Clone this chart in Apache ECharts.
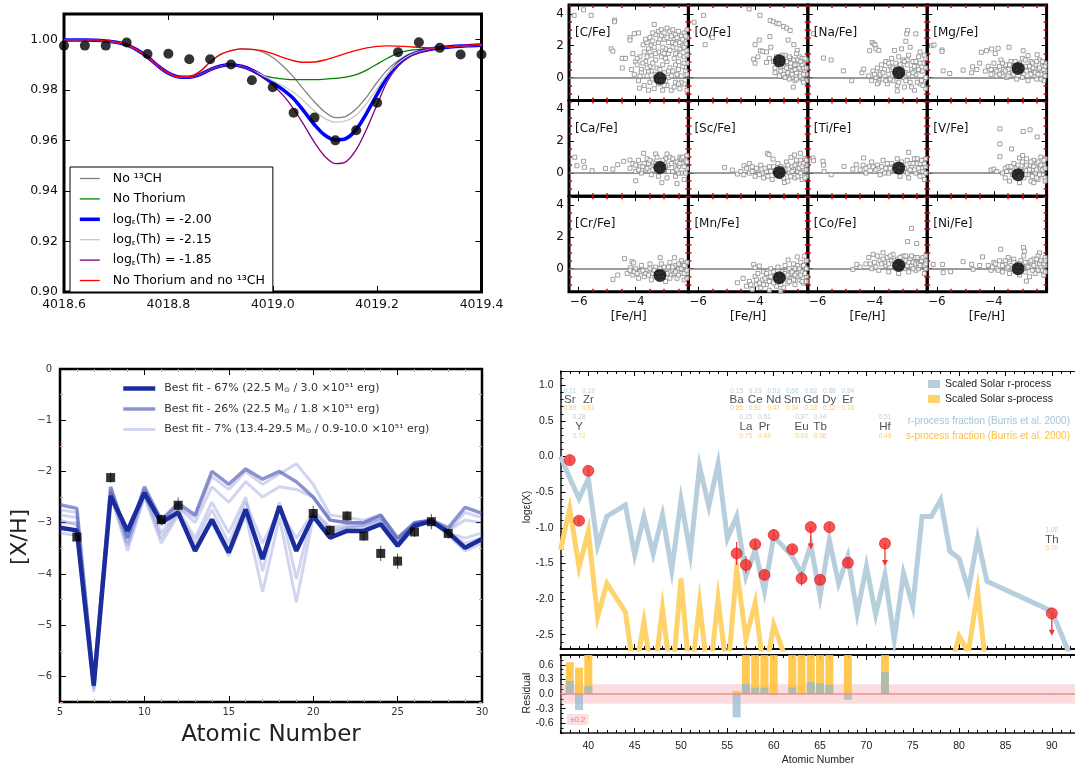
<!DOCTYPE html>
<html>
<head>
<meta charset="utf-8">
<script src="https://cdn.jsdelivr.net/npm/echarts@6.0.0/dist/echarts.min.js"></script>
<style>
  html, body { margin: 0; padding: 0; background: #fff; }
  #chart { width: 1075px; height: 765px; }
</style>
</head>
<body>
<div id="chart"></div>
<script>
const FONT = "'DejaVu Sans', sans-serif"
const FONT2 = "'Liberation Sans', Arial, sans-serif"

// ---- top left: Th 4019 line synthesis ----
const wave = [4018.60,4018.62,4018.64,4018.66,4018.68,4018.70,4018.72,4018.74,4018.76,4018.78,4018.80,4018.82,4018.84,4018.86,4018.88,4018.90,4018.92,4018.94,4018.96,4018.98,4019.00,4019.02,4019.04,4019.06,4019.08,4019.10,4019.12,4019.14,4019.16,4019.18,4019.20,4019.22,4019.24,4019.26,4019.28,4019.30,4019.32,4019.34,4019.36,4019.38,4019.40]
const fluxNo13CH = [0.9999,0.9999,0.9999,0.9998,0.9995,0.9990,0.9979,0.9958,0.9930,0.9895,0.9866,0.9851,0.9852,0.9872,0.9910,0.9940,0.9955,0.9962,0.9960,0.9950,0.9928,0.9893,0.9850,0.9800,0.9752,0.9712,0.9690,0.9695,0.9725,0.9772,0.9830,0.9880,0.9915,0.9940,0.9953,0.9960,0.9965,0.9970,0.9973,0.9975,0.9977]
const fluxNoTh = [0.9997,0.9997,0.9997,0.9996,0.9993,0.9988,0.9978,0.9958,0.9930,0.9895,0.9866,0.9851,0.9850,0.9860,0.9880,0.9894,0.9899,0.9893,0.9878,0.9858,0.9848,0.9843,0.9840,0.9840,0.9840,0.9842,0.9845,0.9850,0.9860,0.9878,0.9902,0.9925,0.9945,0.9955,0.9960,0.9964,0.9967,0.9970,0.9973,0.9975,0.9977]
const fluxTh200 = [0.9997,0.9997,0.9997,0.9996,0.9993,0.9988,0.9978,0.9958,0.9930,0.9895,0.9866,0.9851,0.9850,0.9860,0.9880,0.9894,0.9899,0.9893,0.9878,0.9855,0.9828,0.9800,0.9765,0.9715,0.9662,0.9620,0.9602,0.9607,0.9643,0.9708,0.9782,0.9853,0.9903,0.9933,0.9950,0.9960,0.9966,0.9970,0.9973,0.9975,0.9977]
const fluxTh215 = [0.9997,0.9997,0.9997,0.9996,0.9993,0.9988,0.9978,0.9958,0.9930,0.9895,0.9866,0.9851,0.9850,0.9860,0.9880,0.9894,0.9899,0.9893,0.9878,0.9858,0.9836,0.9815,0.9790,0.9755,0.9716,0.9686,0.9672,0.9677,0.9700,0.9746,0.9805,0.9862,0.9905,0.9934,0.9950,0.9960,0.9966,0.9970,0.9973,0.9975,0.9977]
const fluxTh185 = [0.9997,0.9997,0.9997,0.9996,0.9993,0.9988,0.9978,0.9958,0.9930,0.9895,0.9866,0.9851,0.9850,0.9860,0.9880,0.9894,0.9899,0.9893,0.9878,0.9850,0.9818,0.9778,0.9725,0.9660,0.9592,0.9536,0.9508,0.9515,0.9563,0.9645,0.9742,0.9835,0.9893,0.9928,0.9947,0.9958,0.9965,0.9970,0.9973,0.9975,0.9977]
const fluxNoThNo13CH = [0.9999,0.9999,0.9999,0.9998,0.9995,0.9990,0.9979,0.9958,0.9930,0.9895,0.9866,0.9851,0.9852,0.9872,0.9910,0.9940,0.9955,0.9962,0.9960,0.9955,0.9943,0.9927,0.9915,0.9909,0.9910,0.9918,0.9930,0.9944,0.9956,0.9966,0.9972,0.9974,0.9973,0.9971,0.9968,0.9966,0.9967,0.9971,0.9975,0.9978,0.9980]
const obsWave = [4018.60,4018.64,4018.68,4018.72,4018.76,4018.80,4018.84,4018.88,4018.92,4018.96,4019.00,4019.04,4019.08,4019.12,4019.16,4019.20,4019.24,4019.28,4019.32,4019.36,4019.40]
const obsFlux = [0.9975,0.9975,0.9975,0.9987,0.9942,0.9943,0.9921,0.9921,0.9900,0.9838,0.9810,0.9709,0.9690,0.9600,0.9640,0.9749,0.9949,0.9988,0.9966,0.9940,0.9940]
const waveTicks = [4018.6,4018.8,4019.0,4019.2,4019.4]
const fluxTicks = [0.90,0.92,0.94,0.96,0.98,1.00]

// ---- top right: [X/Fe] vs [Fe/H] ----
const abundLabels = ['[C/Fe]','[O/Fe]','[Na/Fe]','[Mg/Fe]','[Ca/Fe]','[Sc/Fe]','[Ti/Fe]','[V/Fe]','[Cr/Fe]','[Mn/Fe]','[Co/Fe]','[Ni/Fe]']
const starFeH = -3.15
const starXFe = [-0.05,1.05,0.30,0.57,0.35,0.04,0.32,-0.10,-0.42,-0.57,0.21,0.00]
const fehTicks = [-6,-4]
const xfeTicks = [0,2,4]
const cloudC = [[-6.16,3.9],[-5.83,4.25],[-5.56,3.9],[-4.74,3.6],[-4.74,3.5],[-4.86,1.8],[-4.8,1.65],[-4.47,0.6],[-4.47,1.2],[-4.36,1.2],[-4.2,2.5],[-4.2,2.35],[-4.05,2.75],[-3.9,2.8],[-3.35,3.33],[-3.74,2.05],[-3.87,-0.67],[-4.1,1.5],[-4.0,1.0],[-4.15,0.5],
  [-3.6,2.2],[-3.5,2.5],[-3.4,2.3],[-3.3,2.7],[-3.2,2.9],[-3.1,3.0],[-3.0,2.8],[-2.9,3.1],[-2.8,2.9],[-2.7,3.0],[-2.6,2.7],[-2.5,2.9],[-2.4,2.6],[-2.3,2.8],[-2.2,2.5],[-3.45,2.0],[-3.2,2.2],[-3.0,2.4],[-2.85,2.2],[-2.65,2.4],[-2.45,2.2],[-2.25,2.1],[-3.1,2.6],[-2.75,2.6],[-2.35,2.4],[-2.2,3.0],
  [-3.95,0.8],[-3.85,1.3],[-3.8,0.5],[-3.7,1.6],[-3.65,1.0],[-3.55,1.8],[-3.5,0.7],[-3.45,1.4],[-3.35,1.9],[-3.3,1.1],[-3.25,0.6],[-3.2,1.6],[-3.1,1.3],[-3.05,0.8],[-2.95,1.8],[-2.9,1.0],[-2.85,1.5],[-2.8,0.6],[-2.7,1.9],[-2.65,1.2],[-2.6,0.8],[-2.55,1.6],[-2.5,1.0],[-2.4,1.8],[-2.35,0.7],[-2.3,1.3],[-2.2,1.7],[-2.2,0.9],[-3.6,1.3],[-3.4,0.9],[-3.0,1.5],[-2.45,1.4],
  [-4.05,0.2],[-3.9,-0.2],[-3.8,0.3],[-3.7,-0.5],[-3.6,0.1],[-3.5,-0.3],[-3.45,0.4],[-3.35,-0.7],[-3.3,0.2],[-3.2,-0.4],[-3.05,-0.8],[-3.0,0.3],[-2.9,-0.5],[-2.85,0.0],[-2.75,-0.8],[-2.7,0.4],[-2.6,-0.3],[-2.55,0.2],[-2.45,-0.7],[-2.4,0.1],[-2.3,-0.4],[-2.25,0.4],[-2.2,-0.8],[-3.55,-0.8],[-2.95,-0.2],
  [-3.75,0.9],[-3.65,2.4],[-3.55,0.4],[-3.5,1.6],[-3.4,-0.1],[-3.4,2.8],[-3.3,1.5],[-3.25,-0.2],[-3.15,0.5],[-3.15,2.4],[-3.05,1.9],[-3.0,-0.5],[-2.95,1.2],[-2.9,2.5],[-2.85,0.4],[-2.8,1.7],[-2.75,0.1],[-2.7,2.2],[-2.65,-0.6],[-2.6,1.5],[-2.55,2.5],[-2.5,0.5],[-2.45,1.8],[-2.4,-0.3],[-2.35,2.0],[-2.3,0.9],[-2.25,2.6],[-2.2,0.2],[-2.2,1.4],[-2.3,1.9],[-2.5,-0.4],[-2.6,2.1],[-3.6,0.6],[-3.85,0.1],[-3.95,1.2]]
const cloudO = [[-6.14,3.47],[-5.81,3.9],[-5.75,2.06],[-5.5,2.5],[-4.21,4.3],[-3.83,3.9],[-3.47,3.58],[-3.36,3.5],[-3.24,3.4],[-3.16,3.37],[-3.0,3.2],[-2.89,3.1],[-2.77,2.95],[-4.0,2.06],[-3.85,2.35],[-3.81,1.68],[-3.73,1.64],[-4.05,1.15],[-4.0,0.9],[-3.6,0.95],[-3.48,2.57],[-3.45,1.9],[-2.84,2.35],[-2.64,2.06],[-2.52,1.7],[-2.66,-0.6],[-3.6,1.6],[-3.5,1.2],[-3.9,1.3],
  [-3.35,1.0],[-3.3,0.6],[-3.25,1.3],[-3.2,0.8],[-3.1,0.4],[-3.05,1.1],[-3.0,0.7],[-2.95,1.4],[-2.9,0.2],[-2.85,0.9],[-2.8,0.5],[-2.75,1.2],[-2.7,0.0],[-2.65,0.7],[-2.6,1.0],[-2.55,0.3],[-2.5,0.8],[-2.45,1.3],[-2.4,0.5],[-2.35,-0.1],[-2.3,0.9],[-2.25,0.4],[-2.2,1.1],[-2.2,0.2],[-2.6,-0.2],[-2.8,-0.1],[-3.0,0.2],[-2.45,0.0],[-2.3,0.6],[-2.9,0.6],[-3.15,0.1],[-2.55,1.5],[-2.35,1.2],[-2.7,0.4],
  [-3.3,0.3],[-3.2,1.1],[-3.1,0.7],[-3.05,1.4],[-2.95,0.0],[-2.9,1.0],[-2.85,0.3],[-2.8,1.3],[-2.75,0.7],[-2.7,0.2],[-2.65,1.1],[-2.6,0.5],[-2.55,-0.1],[-2.5,1.1],[-2.45,0.6],[-2.4,0.1],[-2.35,0.8],[-2.3,0.2],[-2.25,1.2],[-2.2,0.6],[-2.2,-0.2],[-2.4,1.0],[-2.6,0.8],[-2.75,0.9],[-2.3,-0.3]]
const cloudNa = [[-6.14,2.75],[-5.79,1.22],[-5.52,1.1],[-5.09,0.42],[-4.8,-0.2],[-4.44,0.3],[-4.38,0.52],[-4.17,1.68],[-4.08,2.2],[-4.02,2.1],[-3.98,2.04],[-3.95,1.8],[-3.85,1.7],[-2.84,2.95],[-2.87,2.74],[-2.55,2.74],[-2.9,2.27],[-3.2,-0.84],[-3.3,1.7],[-3.05,1.8],[-2.75,1.9],
  [-4.2,0.1],[-4.1,-0.2],[-4.05,0.4],[-3.95,0.0],[-3.9,0.6],[-3.85,-0.3],[-3.8,0.3],[-3.75,0.8],[-3.7,-0.1],[-3.65,0.5],[-3.6,1.0],[-3.55,-0.4],[-3.5,0.2],[-3.45,0.7],[-3.4,1.2],[-3.35,-0.2],[-3.3,0.4],[-3.25,0.9],[-3.2,-0.5],[-3.15,1.3],[-3.1,0.1],[-3.05,0.6],[-3.0,1.1],[-2.95,-0.6],[-2.9,0.3],[-2.85,0.8],[-2.8,1.4],[-2.75,-0.3],[-2.7,0.5],[-2.65,1.0],[-2.6,-0.8],[-2.55,0.2],[-2.5,0.7],[-2.45,1.3],[-2.4,-0.4],[-2.35,0.4],[-2.3,0.9],[-2.25,-0.1],[-2.2,0.6],[-2.2,1.2],[-2.2,-0.7],[-3.8,0.2],[-3.0,0.0],[-2.6,0.4],[-3.4,0.5],[-2.4,1.6],
  [-4.0,0.2],[-3.9,-0.4],[-3.7,0.3],[-3.6,-0.2],[-3.5,0.9],[-3.45,-0.1],[-3.35,0.6],[-3.25,0.1],[-3.15,-0.3],[-3.1,0.8],[-3.0,0.4],[-2.9,-0.2],[-2.85,1.1],[-2.8,0.2],[-2.7,-0.6],[-2.65,0.3],[-2.55,1.0],[-2.5,-0.3],[-2.45,0.5],[-2.4,0.9],[-2.35,-0.2],[-2.3,0.4],[-2.25,1.4],[-2.2,0.0],[-2.3,-0.5],[-2.6,0.7],[-2.95,1.0],[-3.25,0.5]]
const cloudMg = [[-6.19,2.0],[-6.1,2.04],[-5.82,1.73],[-5.82,1.64],[-5.78,0.42],[-5.55,0.25],[-5.08,0.46],[-4.78,0.3],[-4.75,0.67],[-4.5,0.9],[-4.44,1.58],[-4.26,1.68],[-4.08,1.79],[-3.85,1.83],[-3.95,1.5],[-3.47,1.9],[-2.97,1.68],[-2.8,1.37],[-2.48,1.43],[-4.6,0.5],
  [-4.3,0.4],[-4.2,0.7],[-4.1,0.2],[-4.0,0.9],[-3.95,0.5],[-3.9,0.1],[-3.8,0.7],[-3.75,1.1],[-3.7,0.3],[-3.6,0.8],[-3.55,0.0],[-3.5,0.5],[-3.4,1.0],[-3.35,0.3],[-3.3,0.7],[-3.2,-0.1],[-3.1,0.9],[-3.05,0.4],[-3.0,1.2],[-2.95,0.2],[-2.9,0.7],[-2.8,-0.2],[-2.75,0.5],[-2.7,1.0],[-2.6,0.3],[-2.55,0.8],[-2.5,-0.1],[-2.45,0.5],[-2.4,1.1],[-2.35,0.2],[-2.3,0.7],[-2.25,-0.2],[-2.2,0.4],[-2.2,0.9],[-3.65,0.5],[-3.15,0.6],[-2.65,0.6],
  [-4.1,0.5],[-3.9,0.4],[-3.8,0.2],[-3.7,0.9],[-3.6,0.4],[-3.5,0.1],[-3.45,0.8],[-3.3,0.2],[-3.25,1.0],[-3.2,0.5],[-3.0,0.0],[-3.0,0.6],[-2.9,1.1],[-2.85,0.4],[-2.7,0.2],[-2.65,0.9],[-2.55,0.3],[-2.5,1.0],[-2.4,0.6],[-2.35,-0.1],[-2.3,1.0],[-2.25,0.5],[-2.2,0.1],[-2.2,0.7],[-2.45,0.2],[-2.75,0.7]]
const cloudCa = [[-6.14,0.99],[-6.06,0.46],[-5.83,0.74],[-5.8,0.36],[-5.53,0.15],[-5.06,0.29],[-4.8,0.25],[-4.63,0.53],[-4.42,0.74],[-4.2,0.82],[-4.0,-0.48],[-3.72,1.24],[-3.08,-0.6],[-2.55,-0.65],[-3.3,1.2],[-2.9,1.2],
  [-4.2,0.3],[-4.1,0.6],[-4.0,0.1],[-3.9,0.8],[-3.85,0.4],[-3.8,0.0],[-3.7,0.6],[-3.65,0.2],[-3.6,0.9],[-3.5,0.4],[-3.45,-0.1],[-3.4,0.7],[-3.3,0.3],[-3.25,1.0],[-3.2,-0.2],[-3.1,0.6],[-3.0,0.2],[-2.95,0.9],[-2.9,-0.3],[-2.85,0.5],[-2.8,1.0],[-2.7,0.1],[-2.65,0.7],[-2.6,-0.2],[-2.5,0.4],[-2.45,1.0],[-2.4,0.0],[-2.35,0.6],[-2.3,-0.4],[-2.25,0.8],[-2.2,0.3],[-2.2,1.1],[-3.55,0.6],[-3.0,0.6],[-2.55,0.7],
  [-4.0,0.5],[-3.9,0.2],[-3.75,0.4],[-3.6,0.3],[-3.5,0.8],[-3.4,0.2],[-3.3,0.6],[-3.15,0.3],[-3.05,0.8],[-2.95,0.4],[-2.85,0.1],[-2.75,0.6],[-2.7,0.9],[-2.6,0.3],[-2.5,0.0],[-2.45,0.6],[-2.4,0.9],[-2.3,0.4],[-2.25,0.0],[-2.2,0.7],[-2.35,1.0],[-2.55,0.2]]
const cloudSc = [[-5.07,0.36],[-4.8,0.19],[-4.62,-0.06],[-4.39,0.46],[-3.57,1.24],[-3.51,1.16],[-3.37,0.88],[-2.74,0.99],[-2.62,1.14],[-2.41,1.24],[-2.97,-0.59],[-4.2,0.6],
  [-4.5,0.1],[-4.4,-0.1],[-4.3,0.3],[-4.2,0.0],[-4.1,0.4],[-4.0,-0.2],[-3.9,0.2],[-3.8,0.5],[-3.7,-0.3],[-3.6,0.1],[-3.5,0.4],[-3.4,-0.4],[-3.3,0.2],[-3.2,0.6],[-3.1,-0.2],[-3.0,0.3],[-2.9,0.7],[-2.85,-0.5],[-2.8,0.0],[-2.7,0.4],[-2.6,-0.3],[-2.55,0.6],[-2.5,0.1],[-2.4,0.8],[-2.35,-0.4],[-2.3,0.3],[-2.25,0.9],[-2.2,-0.2],[-2.2,0.5],[-3.75,0.0],[-3.25,-0.1],[-2.65,0.2],
  [-4.1,0.1],[-3.95,0.3],[-3.85,-0.1],[-3.65,0.3],[-3.55,-0.2],[-3.45,0.1],[-3.35,0.4],[-3.2,0.0],[-3.1,0.4],[-3.0,-0.3],[-2.95,0.2],[-2.85,0.5],[-2.75,-0.2],[-2.7,0.1],[-2.6,0.5],[-2.5,-0.2],[-2.45,0.3],[-2.4,0.0],[-2.3,0.6],[-2.25,-0.3],[-2.2,0.2],[-2.35,0.4],[-2.55,0.8],[-2.2,0.8]]
const cloudTi = [[-6.16,0.95],[-6.14,0.78],[-5.81,0.74],[-5.79,0.5],[-5.77,0.1],[-5.52,-0.1],[-5.07,0.42],[-4.76,0.25],[-4.64,0.53],[-4.38,0.95],[-2.8,1.3],
  [-4.5,0.2],[-4.4,0.5],[-4.3,0.0],[-4.2,0.4],[-4.1,0.7],[-4.0,0.1],[-3.9,0.5],[-3.8,-0.1],[-3.7,0.8],[-3.6,0.3],[-3.5,0.0],[-3.4,0.6],[-3.3,0.2],[-3.2,0.9],[-3.1,-0.2],[-3.0,0.5],[-2.9,0.1],[-2.85,0.8],[-2.8,-0.3],[-2.7,0.4],[-2.6,0.9],[-2.55,0.0],[-2.5,0.6],[-2.4,-0.2],[-2.35,0.3],[-2.3,0.8],[-2.25,-0.4],[-2.2,0.4],[-2.2,0.9],[-3.85,0.3],[-3.35,0.4],[-2.75,0.6],
  [-4.3,0.3],[-4.05,0.4],[-3.95,0.2],[-3.75,0.4],[-3.65,0.0],[-3.55,0.6],[-3.45,0.3],[-3.25,0.5],[-3.15,0.1],[-3.05,0.7],[-2.95,0.3],[-2.85,0.0],[-2.75,0.2],[-2.65,0.6],[-2.6,0.2],[-2.5,0.9],[-2.45,0.3],[-2.4,0.6],[-2.3,0.1],[-2.25,0.6],[-2.2,0.0],[-2.35,0.8]]
const cloudV = [[-3.79,2.78],[-3.79,1.83],[-3.79,1.03],[-3.38,1.52],[-2.97,2.61],[-2.73,2.72],[-2.48,2.27],[-3.1,0.95],[-2.99,1.1],[-4.1,0.19],[-4.0,0.25],[-3.9,0.1],[-3.6,0.3],
  [-3.7,0.0],[-3.6,-0.3],[-3.5,0.4],[-3.45,-0.5],[-3.4,0.1],[-3.3,0.6],[-3.25,-0.2],[-3.2,0.3],[-3.1,-0.6],[-3.05,0.2],[-3.0,0.7],[-2.95,-0.3],[-2.9,0.4],[-2.85,0.9],[-2.8,-0.1],[-2.75,0.5],[-2.7,-0.5],[-2.65,0.2],[-2.6,0.8],[-2.55,0.0],[-2.5,0.6],[-2.45,-0.4],[-2.4,0.3],[-2.35,1.0],[-2.3,-0.1],[-2.25,0.5],[-2.2,0.9],[-2.2,-0.3],[-3.35,-0.1],[-2.6,-0.6],
  [-3.55,0.1],[-3.4,0.4],[-3.3,0.0],[-3.15,0.5],[-3.0,0.1],[-2.9,-0.1],[-2.85,0.5],[-2.75,0.2],[-2.65,-0.2],[-2.6,0.4],[-2.5,0.2],[-2.45,0.7],[-2.4,-0.1],[-2.35,0.5],[-2.3,0.2],[-2.25,0.8],[-2.2,0.3],[-2.2,-0.5],[-2.5,-0.3],[-2.7,0.7]]
const cloudCr = [[-4.8,-0.67],[-4.63,-0.4],[-4.39,0.63],[-4.19,0.06],[-4.13,0.44],[-4.07,0.36],[-3.14,0.69],[-2.64,0.69],[-2.4,0.5],
  [-4.3,-0.3],[-4.2,-0.1],[-4.1,-0.4],[-4.0,0.0],[-3.9,-0.6],[-3.85,-0.2],[-3.8,0.2],[-3.7,-0.5],[-3.6,-0.1],[-3.5,0.3],[-3.45,-0.7],[-3.4,-0.3],[-3.3,0.1],[-3.2,-0.5],[-3.1,0.3],[-3.0,-0.2],[-2.95,-0.8],[-2.9,0.0],[-2.8,0.4],[-2.75,-0.4],[-2.7,-0.1],[-2.6,0.2],[-2.55,-0.6],[-2.5,0.0],[-2.4,-0.3],[-2.35,0.3],[-2.3,-0.7],[-2.25,0.1],[-2.2,-0.3],[-2.2,0.4],[-3.65,-0.3],[-3.0,0.1],[-2.65,-0.3],
  [-4.05,-0.2],[-3.95,-0.3],[-3.75,-0.1],[-3.55,-0.4],[-3.5,0.0],[-3.35,-0.1],[-3.25,-0.3],[-3.15,0.0],[-3.05,-0.5],[-2.9,-0.3],[-2.85,0.1],[-2.8,-0.6],[-2.7,0.1],[-2.6,-0.2],[-2.5,-0.4],[-2.45,0.2],[-2.4,0.0],[-2.3,0.2],[-2.3,-0.3],[-2.2,-0.1],[-2.2,-0.6],[-2.5,0.3]]
const cloudMn = [[-4.62,-0.88],[-4.42,-0.61],[-4.05,0.27],[-4.0,0.06],[-3.85,0.17],[-2.84,0.55],[-2.52,0.74],[-2.27,0.78],[-3.1,-1.4],
  [-4.3,-1.1],[-4.2,-0.8],[-4.1,-1.3],[-4.0,-0.5],[-3.95,-1.0],[-3.9,-0.3],[-3.8,-1.2],[-3.75,-0.7],[-3.7,-0.2],[-3.6,-1.0],[-3.55,-0.5],[-3.5,-1.35],[-3.45,0.0],[-3.4,-0.8],[-3.3,-0.4],[-3.25,-1.1],[-3.2,0.1],[-3.1,-0.7],[-3.05,-0.2],[-3.0,-1.2],[-2.95,0.2],[-2.9,-0.5],[-2.85,-0.9],[-2.8,0.0],[-2.7,-0.6],[-2.65,0.3],[-2.6,-1.0],[-2.55,-0.3],[-2.5,0.2],[-2.45,-0.7],[-2.4,0.4],[-2.35,-0.2],[-2.3,-0.9],[-2.25,0.1],[-2.2,-0.5],[-2.2,0.5],[-3.65,-0.6],[-3.35,-0.9],[-2.75,-0.3],
  [-4.15,-1.0],[-3.95,-0.7],[-3.85,-0.9],[-3.7,-1.0],[-3.6,-0.3],[-3.5,-0.8],[-3.45,-0.5],[-3.35,-0.2],[-3.25,-0.6],[-3.15,-0.4],[-3.1,-1.0],[-3.0,-0.6],[-2.95,-0.3],[-2.85,-0.4],[-2.8,-0.8],[-2.7,-0.2],[-2.65,-0.7],[-2.6,0.0],[-2.5,-0.5],[-2.45,0.0],[-2.4,-0.4],[-2.35,-0.8],[-2.3,0.2],[-2.25,-0.3],[-2.2,0.0],[-2.2,-0.8],[-2.6,-0.4]]
const cloudCo = [[-4.76,-0.04],[-4.62,0.27],[-2.7,2.53],[-2.84,1.7],[-2.52,1.58],[-4.5,0.1],
  [-4.3,0.3],[-4.2,0.7],[-4.1,0.0],[-4.05,0.9],[-4.0,0.4],[-3.9,0.8],[-3.85,-0.1],[-3.8,0.5],[-3.7,1.0],[-3.6,0.2],[-3.55,0.7],[-3.5,-0.2],[-3.4,0.5],[-3.35,0.9],[-3.3,0.1],[-3.2,0.6],[-3.15,-0.3],[-3.1,0.3],[-3.0,0.8],[-2.95,0.0],[-2.9,0.5],[-2.8,-0.2],[-2.75,0.6],[-2.7,0.2],[-2.6,0.7],[-2.55,-0.1],[-2.5,0.4],[-2.45,0.0],[-2.4,0.6],[-2.3,0.2],[-2.25,-0.3],[-2.2,0.5],[-2.2,0.0],[-3.65,0.4],[-3.05,0.3],[-2.65,0.4],
  [-4.15,0.3],[-3.95,0.1],[-3.75,0.3],[-3.7,0.6],[-3.5,0.3],[-3.45,0.8],[-3.3,0.5],[-3.25,0.2],[-3.1,0.7],[-3.0,0.3],[-2.9,0.8],[-2.85,0.2],[-2.8,0.4],[-2.7,0.8],[-2.65,0.0],[-2.55,0.3],[-2.5,0.7],[-2.45,0.3],[-2.4,0.2],[-2.35,0.5],[-2.3,0.7],[-2.25,0.2],[-2.2,0.8],[-2.2,0.3]]
const cloudNi = [[-6.13,0.27],[-5.8,0.27],[-5.78,-0.25],[-5.52,-0.19],[-5.08,0.44],[-4.78,0.27],[-4.73,-0.04],[-4.4,0.74],[-3.76,1.22],[-3.44,0.59],[-2.96,1.33],[-2.93,1.1],[-2.86,-0.78],[-2.4,1.0],[-4.5,0.2],
  [-4.2,0.2],[-4.1,-0.1],[-4.0,0.4],[-3.9,0.0],[-3.8,0.5],[-3.7,-0.2],[-3.6,0.3],[-3.5,0.7],[-3.45,-0.3],[-3.4,0.2],[-3.3,0.6],[-3.25,-0.1],[-3.2,0.3],[-3.1,-0.4],[-3.05,0.5],[-3.0,0.1],[-2.95,0.8],[-2.9,-0.2],[-2.8,0.4],[-2.75,-0.5],[-2.7,0.1],[-2.6,0.6],[-2.55,-0.3],[-2.5,0.3],[-2.45,0.8],[-2.4,-0.1],[-2.3,0.4],[-2.25,-0.4],[-2.2,0.2],[-2.2,0.7],[-3.55,0.0],[-2.85,0.2],[-2.35,0.1],
  [-4.05,0.1],[-3.95,0.3],[-3.85,-0.1],[-3.7,0.2],[-3.6,0.5],[-3.5,0.1],[-3.35,0.0],[-3.3,0.4],[-3.15,0.1],[-3.1,0.3],[-2.95,0.0],[-2.9,0.4],[-2.8,0.1],[-2.7,0.5],[-2.65,-0.1],[-2.6,0.2],[-2.5,0.6],[-2.45,-0.1],[-2.4,0.3],[-2.35,0.5],[-2.3,-0.1],[-2.25,0.3],[-2.2,0.5],[-2.2,-0.2]]
const clouds = [cloudC, cloudO, cloudNa, cloudMg, cloudCa, cloudSc, cloudTi, cloudV, cloudCr, cloudMn, cloudCo, cloudNi]

// ---- bottom left: [X/H] vs atomic number, supernova fits ----
const fitZ = [5,6,7,8,9,10,11,12,13,14,15,16,17,18,19,20,21,22,23,24,25,26,27,28,29,30]
const fit67 = [-3.1,-3.15,-6.18,-2.48,-3.16,-2.42,-3.0,-2.8,-3.55,-2.94,-3.58,-2.74,-3.71,-2.68,-3.55,-2.87,-3.29,-3.16,-3.16,-3.03,-3.45,-3.06,-2.97,-3.19,-3.49,-3.32]
const fit26 = [-2.65,-2.72,-6.1,-2.3,-3.3,-2.3,-2.95,-2.62,-2.85,-2.0,-2.25,-1.95,-2.15,-2.0,-2.2,-2.5,-2.95,-3.0,-3.0,-2.85,-3.3,-3.0,-2.95,-3.1,-2.7,-2.82]
const fit7a = [-2.75,-2.8,-6.2,-2.35,-3.2,-2.35,-2.95,-2.7,-2.9,-2.1,-2.35,-2.0,-2.25,-2.05,-1.85,-2.25,-2.85,-2.9,-2.95,-2.85,-3.3,-3.0,-2.95,-3.15,-2.8,-2.9]
const fit7b = [-3.2,-3.25,-6.3,-2.45,-3.55,-2.5,-3.4,-2.85,-3.5,-3.0,-3.65,-2.85,-4.35,-2.9,-4.55,-2.9,-3.2,-3.1,-3.1,-2.95,-3.4,-3.0,-2.95,-3.25,-3.55,-3.4]
const fit7c = [-3.0,-3.0,-6.2,-2.4,-3.4,-2.45,-3.2,-2.75,-3.3,-2.6,-3.2,-2.5,-3.95,-2.6,-4.1,-2.75,-3.1,-3.05,-3.05,-2.9,-3.35,-3.05,-2.95,-3.2,-3.3,-3.2]
const fit7d = [-2.85,-2.9,-6.15,-2.4,-3.3,-2.4,-3.05,-2.7,-3.0,-2.3,-2.6,-2.2,-2.5,-2.3,-2.35,-2.5,-2.95,-3.0,-3.0,-2.9,-3.35,-3.0,-2.95,-3.15,-2.95,-3.0]
const fit7e = [-2.95,-3.05,-6.25,-2.45,-3.45,-2.45,-3.3,-2.8,-3.4,-2.75,-3.4,-2.6,-3.4,-2.75,-3.3,-2.8,-3.15,-3.1,-3.05,-2.95,-3.4,-3.05,-2.95,-3.2,-3.4,-3.3]
const starZ = [6,8,11,12,20,21,22,23,24,25,26,27,28]
const starXH = [-3.28,-2.12,-2.94,-2.66,-2.82,-3.15,-2.87,-3.26,-3.6,-3.75,-3.18,-2.98,-3.21]
const starXHErr = [0.1,0.1,0.1,0.15,0.15,0.1,0.1,0.1,0.15,0.15,0.1,0.15,0.1]
const zTicksBL = [5,10,15,20,25,30]
const xhTicks = [-6,-5,-4,-3,-2,-1,0]

// ---- bottom right: neutron-capture pattern ----
const solarZ = [37,38,39,40,41,42,44,45,46,47,48,49,50,51,52,53,54,55,56,57,58,59,60,62,63,64,65,66,67,68,69,70,71,72,73,74,75,76,77,78,79,80,81,82,83,90,92]
const rProcess = [0.0,-0.3,-0.59,-0.31,-1.25,-0.84,-0.68,-1.38,-0.84,-1.36,-0.82,-1.59,-0.61,-1.36,-0.14,-0.70,-0.10,-1.15,-0.84,-1.68,-1.31,-1.89,-1.12,-1.40,-1.64,-1.24,-1.96,-1.17,-1.78,-1.40,-2.2,-1.54,-2.22,-1.66,-2.57,-1.64,-2.10,-0.84,-0.84,-0.61,-1.33,-1.43,-1.87,-1.15,-1.75,-2.17,-2.8]
const sProcess = [-1.31,-0.73,-1.55,-1.05,-2.25,-1.78,-2.18,-3.1,-2.32,-3.2,-2.13,-3.2,-1.71,-3.2,-2.06,-3.2,-2.0,-3.1,-1.57,-2.56,-2.05,-3.1,-2.36,-3.1,-3.3,-3.3,-3.3,-3.3,-3.3,-3.3,-3.3,-3.3,-3.3,-3.3,-3.3,-3.3,-3.3,-3.3,-3.3,-3.3,-3.0,-2.52,-2.75,-1.89,-3.1,null,null]
const obsElemZ = [38,39,40,56,57,58,59,60,62,63,64,65,66,68,72,90]
const obsLogEps = [-0.05,-0.90,-0.20,-1.36,-1.52,-1.23,-1.66,-1.10,-1.30,-1.71,-0.99,-1.73,-0.99,-1.49,-1.22,-2.20]
const obsLogErr = [0.05,0.05,0.05,0.16,0.12,0.06,0.06,0.08,0.05,0.10,0,0.06,0.05,0.06,0,0]
const obsUpper = [0,0,0,0,0,0,0,0,0,0,1,0,0,0,1,1]
const residS = [0.65,0.54,1.2,0.06,1.2,1.2,1.2,1.2,1.2,1.2,1.2,1.2,1.2,1.2,1.2,null]
const residR = [0.27,-0.33,0.16,-0.48,0.21,0.13,0.13,-0.02,0.14,0.02,0.25,0.22,0.19,-0.12,0.45,-0.01]
const elemSym = ['Sr','Zr','Ba','Ce','Nd','Sm','Gd','Dy','Er','Y','La','Pr','Eu','Tb','Hf','Th']
const elemZ = [38,40,56,58,60,62,64,66,68,39,57,59,63,65,72,90]
const elemRow = [1,1,1,1,1,1,1,1,1,2,2,2,2,2,2,3]
const rFraction = ['0.11','0.19','0.15','0.19','0.53','0.66','0.82','0.88','0.84','0.28','0.25','0.51','0.97','0.94','0.51','1.00']
const sFraction = ['0.89','0.81','0.85','0.81','0.47','0.34','0.18','0.12','0.16','0.72','0.75','0.49','0.03','0.06','0.49','0.00']
const zTicksBR = [40,45,50,55,60,65,70,75,80,85,90]
const logEpsTicks = [-2.5,-2.0,-1.5,-1.0,-0.5,0.0,0.5,1.0]
const residTicks = [-0.6,-0.3,0.0,0.3,0.6]

// ---------------------------------------------------------------
const grids = [], xAxes = [], yAxes = [], series = [], legends = [], graphics = []

function steps(a, b, step, skip) {
  const out = []
  for (let k = Math.ceil(a / step - 1e-9); k * step <= b + 1e-9; k++) {
    const v = +(k * step).toFixed(6)
    if (!skip || skip.indexOf(v) < 0) out.push(v)
  }
  return out
}

// one value axis per side, plus an optional axis carrying only minor ticks
function frame(g, dim, range, o) {
  const list = dim === 'x' ? xAxes : yAxes
  const sides = dim === 'x' ? ['bottom', 'top'] : ['left', 'right']
  let main = -1
  sides.forEach((pos, i) => {
    if (i === 1 && o.noOpposite) return
    const lw = i === 0 ? o.lineWidth : o.oppLineWidth
    const base = {
      type: 'value', gridIndex: g, min: range[0], max: range[1], position: pos, silent: true,
      splitLine: { show: false },
      axisLine: { show: !!lw, onZero: false, lineStyle: { color: '#111', width: lw || 1 } }
    }
    list.push(Object.assign({}, base, {
      axisTick: { show: true, inside: true, length: o.tickLen, customValues: o.major, lineStyle: { color: '#000', width: o.tickWidth || 1 } },
      axisLabel: (i === 0 && o.labels)
        ? Object.assign({ show: true, customValues: o.major, formatter: o.fmt }, o.labelStyle)
        : { show: false }
    }))
    if (i === 0) main = list.length - 1
    if (o.minor) {
      list.push(Object.assign({}, base, {
        axisLine: { show: false, onZero: false },
        axisTick: { show: true, inside: true, length: o.minorLen, customValues: o.minor, lineStyle: { color: o.minorColor || '#000', width: o.minorWidth || 1 } },
        axisLabel: { show: false }
      }))
    }
  })
  return main
}

function text(x, y, str, style, rot) {
  graphics.push({ type: 'text', x, y, rotation: rot || 0, z: 50, silent: true,
    style: Object.assign({ text: str, align: 'center', verticalAlign: 'middle', fill: '#111', fontFamily: FONT }, style) })
}

// legend line icons only: hide the marker ECharts puts in the middle
const noMarker = { color: 'rgba(0,0,0,0)', borderWidth: 0 }

// ===== top left =====
const gTL = grids.push({ left: 64, top: 14, width: 417.5, height: 278, show: true, borderColor: '#000', borderWidth: 3, backgroundColor: 'transparent' }) - 1
const tlLabel = { fontFamily: FONT, fontSize: 12.5, color: '#111', margin: 6 }
const xTL = frame(gTL, 'x', [4018.6, 4019.4], { major: waveTicks, tickLen: 6, labels: true, fmt: v => v.toFixed(1), labelStyle: tlLabel })
const yTL = frame(gTL, 'y', [0.90, 1.01], { major: fluxTicks, tickLen: 6, labels: true, fmt: v => v.toFixed(2), labelStyle: tlLabel })
const tlCurves = [
  ['no13ch', fluxNo13CH, '#808080', 1.3],
  ['noth', fluxNoTh, '#008000', 1.3],
  ['th200', fluxTh200, '#0000ff', 3.6],
  ['th215', fluxTh215, '#c8c8c8', 1.3],
  ['th185', fluxTh185, '#800080', 1.3],
  ['nothno13ch', fluxNoThNo13CH, '#ff0000', 1.3]
]
tlCurves.forEach(([name, arr, color, width], k) => {
  series.push({ type: 'line', name, xAxisIndex: xTL, yAxisIndex: yTL, symbol: 'none', smooth: 0.3, z: 2 + k,
    data: wave.map((w, i) => [w, arr[i]]), lineStyle: { color, width }, itemStyle: { color } })
})
series.push({ type: 'scatter', xAxisIndex: xTL, yAxisIndex: yTL, symbolSize: 10, z: 10,
  data: obsWave.map((w, i) => [w, obsFlux[i]]), itemStyle: { color: '#000' } })
const tlLegendText = {
  no13ch: 'No ¹³CH',
  noth: 'No Thorium',
  th200: 'log{e|ε}(Th) = -2.00',
  th215: 'log{e|ε}(Th) = -2.15',
  th185: 'log{e|ε}(Th) = -1.85',
  nothno13ch: 'No Thorium and no ¹³CH'
}
legends.push({
  data: tlCurves.map(c => ({ name: c[0], lineStyle: { width: c[3] } })), formatter: n => tlLegendText[n], selectedMode: false,
  left: 70, top: 167, orient: 'vertical', padding: [5, 8, 5, 8], itemWidth: 20, itemHeight: 12, itemGap: 7.4,
  borderColor: '#000', borderWidth: 1, backgroundColor: '#fff', z: 20, itemStyle: noMarker,
  textStyle: { fontFamily: FONT, fontSize: 12.5, color: '#000', padding: [0, 0, 0, 8],
    rich: { e: { fontFamily: FONT, fontSize: 7, color: '#000', padding: [6, 0, 0, 0] } } }
})

// ===== top right (4 x 3 small panels) =====
const trLabel = { fontFamily: FONT, fontSize: 12, color: '#111' }
clouds.forEach((cloud, k) => {
  const r = Math.floor(k / 4), c = k % 4
  const left = 569 + c * 119.4, top = 5 + r * 95.6
  const g = grids.push({ left, top, width: 119.4, height: 95.6, show: true, borderColor: '#000', borderWidth: 3, backgroundColor: 'transparent' }) - 1
  const xi = frame(g, 'x', [-6.34, -2.15], {
    major: fehTicks, tickLen: 5, minor: steps(-6.3, -2.2, 0.5, fehTicks), minorLen: 3, minorColor: '#e00000', minorWidth: 1.5,
    labels: r === 2, fmt: v => (v < 0 ? '\u2212' : '') + Math.abs(v), labelStyle: Object.assign({ margin: 4 }, trLabel)
  })
  const yi = frame(g, 'y', [-1.45, 4.55], {
    major: xfeTicks, tickLen: 5, minor: steps(-1.4, 4.5, 0.5, xfeTicks), minorLen: 3, minorColor: '#e00000', minorWidth: 1.5,
    labels: c === 0, fmt: v => String(v), labelStyle: Object.assign({ margin: 5 }, trLabel)
  })
  series.push({ type: 'scatter', xAxisIndex: xi, yAxisIndex: yi, symbol: 'rect', symbolSize: 4, z: 3, silent: true,
    data: cloud, itemStyle: { color: '#fff', borderColor: '#8a8a8a', borderWidth: 1 },
    markLine: { silent: true, symbol: 'none', label: { show: false }, lineStyle: { color: '#7a7a7a', width: 1.5, type: 'solid' }, data: [{ yAxis: 0 }], z: 2 } })
  series.push({ type: 'scatter', xAxisIndex: xi, yAxisIndex: yi, symbolSize: 13, z: 5, silent: true,
    data: [[starFeH, starXFe[k]]], itemStyle: { color: '#000' } })
  graphics.push({ type: 'text', x: left + 6, y: top + 28, z: 50, silent: true,
    style: { text: abundLabels[k], fontFamily: FONT, fontSize: 12, fill: '#111', align: 'left', verticalAlign: 'middle' } })
  if (r === 2) text(left + 59.7, 316.5, '[Fe/H]', { fontSize: 12 })
})

// ===== bottom left =====
const gBL = grids.push({ left: 60, top: 369, width: 422, height: 333, show: true, borderColor: '#000', borderWidth: 2.5, backgroundColor: 'transparent' }) - 1
const blLabel = { fontFamily: FONT, fontSize: 10, color: '#333' }
const xBL = frame(gBL, 'x', [5, 30], { major: zTicksBL, tickLen: 6, minor: steps(5, 30, 1, zTicksBL), minorLen: 3, minorColor: '#d9a0a0',
  labels: true, fmt: v => String(v), labelStyle: Object.assign({ margin: 5 }, blLabel) })
const yBL = frame(gBL, 'y', [-6.5, 0], { major: xhTicks, tickLen: 6, minor: steps(-6.5, 0, 0.5, xhTicks), minorLen: 3, minorColor: '#d9a0a0',
  labels: true, fmt: v => (v < 0 ? '\u2212' + Math.abs(v) : '0'), labelStyle: Object.assign({ margin: 8 }, blLabel) })
const light = 'rgba(105,115,205,0.30)'
;[fit7a, fit7b, fit7c, fit7d, fit7e].forEach((arr) => {
  series.push({ type: 'line', name: 'fit7', xAxisIndex: xBL, yAxisIndex: yBL, symbol: 'none', z: 2,
    data: fitZ.map((z, i) => [z, arr[i]]), lineStyle: { color: light, width: 3 }, itemStyle: { color: light } })
})
series.push({ type: 'line', name: 'fit26', xAxisIndex: xBL, yAxisIndex: yBL, symbol: 'none', z: 3,
  data: fitZ.map((z, i) => [z, fit26[i]]), lineStyle: { color: 'rgba(70,82,178,0.62)', width: 3.5 }, itemStyle: { color: 'rgba(70,82,178,0.62)' } })
series.push({ type: 'line', name: 'fit67', xAxisIndex: xBL, yAxisIndex: yBL, symbol: 'none', z: 4,
  data: fitZ.map((z, i) => [z, fit67[i]]), lineStyle: { color: '#1b2c9d', width: 4.5 }, itemStyle: { color: '#1b2c9d' } })
series.push({ type: 'custom', xAxisIndex: xBL, yAxisIndex: yBL, z: 5, silent: true,
  data: starZ.map((z, i) => [z, starXH[i], starXHErr[i]]),
  renderItem: (params, api) => {
    const a = api.coord([api.value(0), api.value(1) - api.value(2)])
    const b = api.coord([api.value(0), api.value(1) + api.value(2)])
    return { type: 'line', shape: { x1: a[0], y1: a[1], x2: b[0], y2: b[1] }, style: { stroke: '#555', lineWidth: 1 } }
  } })
series.push({ type: 'scatter', xAxisIndex: xBL, yAxisIndex: yBL, symbol: 'rect', symbolSize: 9, z: 6,
  data: starZ.map((z, i) => [z, starXH[i]]), itemStyle: { color: '#000' } })
const blLegendText = {
  fit67: 'Best fit - 67% (22.5 M{s|⊙} / 3.0 ×10⁵¹ erg)',
  fit26: 'Best fit - 26% (22.5 M{s|⊙} / 1.8 ×10⁵¹ erg)',
  fit7: 'Best fit - 7% (13.4-29.5 M{s|⊙} / 0.9-10.0 ×10⁵¹ erg)'
}
legends.push({
  data: [{ name: 'fit67', lineStyle: { width: 4.5 } }, { name: 'fit26', lineStyle: { width: 3.5 } }, { name: 'fit7', lineStyle: { width: 3 } }],
  formatter: n => blLegendText[n], selectedMode: false,
  left: 121, top: 383, orient: 'vertical', padding: 0, itemWidth: 32, itemHeight: 12, itemGap: 9.5, z: 20, itemStyle: noMarker,
  textStyle: { fontFamily: FONT, fontSize: 11, color: '#333', padding: [0, 0, 0, 4],
    rich: { s: { fontFamily: FONT, fontSize: 7, color: '#333', padding: [4, 0, 0, 0] } } }
})
text(20, 537, '[X/H]', { fontSize: 22, fill: '#222' }, Math.PI / 2)
text(271, 735, 'Atomic Number', { fontSize: 23, fill: '#222' })

// ===== bottom right: main panel + residuals =====
const brLabel = { fontFamily: FONT2, fontSize: 10.5, color: '#222' }
const gBR = grids.push({ left: 560.5, top: 371, width: 514.5, height: 278 }) - 1
const xBR = frame(gBR, 'x', [37, 92.5], { major: zTicksBR, tickLen: 5, minor: steps(37, 92, 1, zTicksBR), minorLen: 3,
  labels: false, lineWidth: 2, oppLineWidth: 1 })
const yBR = frame(gBR, 'y', [-2.7, 1.2], { major: logEpsTicks, tickLen: 5, minor: steps(-2.7, 1.2, 0.1, logEpsTicks), minorLen: 3,
  labels: true, fmt: v => v.toFixed(1), labelStyle: Object.assign({ margin: 7 }, brLabel), lineWidth: 1.5, noOpposite: true })
series.push({ type: 'line', name: 'Scaled Solar s-process', xAxisIndex: xBR, yAxisIndex: yBR, symbol: 'none', z: 2,
  data: solarZ.map((z, i) => [z, sProcess[i]]), lineStyle: { color: '#ffd36b', width: 5, join: 'miter' }, itemStyle: { color: '#ffd36b' } })
series.push({ type: 'line', name: 'Scaled Solar r-process', xAxisIndex: xBR, yAxisIndex: yBR, symbol: 'none', z: 3,
  data: solarZ.map((z, i) => [z, rProcess[i]]), lineStyle: { color: '#b7cfdd', width: 5, join: 'miter' }, itemStyle: { color: '#b7cfdd' } })
series.push({ type: 'custom', xAxisIndex: xBR, yAxisIndex: yBR, z: 4, silent: true,
  data: obsElemZ.map((z, i) => [z, obsLogEps[i], obsLogErr[i], obsUpper[i]]),
  renderItem: (params, api) => {
    const z = api.value(0), v = api.value(1), e = api.value(2), up = api.value(3)
    const red = '#f03434', kids = []
    if (e > 0) {
      const a = api.coord([z, v - e]), b = api.coord([z, v + e])
      kids.push({ type: 'line', shape: { x1: a[0], y1: a[1], x2: b[0], y2: b[1] }, style: { stroke: red, lineWidth: 1.2 } })
    }
    if (up) {
      const a = api.coord([z, v]), b = api.coord([z, v - 0.3])
      kids.push({ type: 'line', shape: { x1: a[0], y1: a[1], x2: b[0], y2: b[1] - 4 }, style: { stroke: red, lineWidth: 1.3 } })
      kids.push({ type: 'polygon', shape: { points: [[b[0] - 3, b[1] - 5], [b[0] + 3, b[1] - 5], [b[0], b[1] + 1]] }, style: { fill: red } })
    }
    return { type: 'group', children: kids }
  } })
series.push({ type: 'scatter', xAxisIndex: xBR, yAxisIndex: yBR, symbolSize: 11, z: 5,
  data: obsElemZ.map((z, i) => [z, obsLogEps[i]]), itemStyle: { color: '#f42a2a', borderColor: '#e01010', borderWidth: 0.8 } })
function labelSeries(texts, rowY, size, color) {
  series.push({ type: 'scatter', xAxisIndex: xBR, yAxisIndex: yBR, symbolSize: 1, z: 6, silent: true,
    itemStyle: { color: 'rgba(0,0,0,0)' },
    data: elemZ.map((z, i) => ({ value: [z, rowY[elemRow[i]]], t: texts[i] })),
    label: { show: true, position: 'inside', formatter: p => p.data.t, fontFamily: FONT2, fontSize: size, color } })
}
labelSeries(elemSym, { 1: 0.80, 2: 0.41, 3: -1.17 }, 11.5, '#222')
labelSeries(rFraction, { 1: 0.92, 2: 0.545, 3: -1.03 }, 6.5, '#a6c4d8')
labelSeries(sFraction, { 1: 0.675, 2: 0.28, 3: -1.28 }, 6.5, '#ffbf3c')
legends.push({
  data: ['Scaled Solar r-process', 'Scaled Solar s-process'], selectedMode: false,
  left: 928, top: 378, orient: 'vertical', padding: 0, icon: 'rect', itemWidth: 12, itemHeight: 8, itemGap: 3,
  textStyle: { fontFamily: FONT2, fontSize: 10.5, lineHeight: 12, color: '#222', padding: [0, 0, 0, 0] }
})
text(1070, 421, 'r-process fraction (Burris et al. 2000)', { fontFamily: FONT2, fontSize: 10, fill: '#a6c4d8', align: 'right' })
text(1070, 436, 's-process fraction (Burris et al. 2000)', { fontFamily: FONT2, fontSize: 10, fill: '#ffbf3c', align: 'right' })
text(527, 507, 'logε(X)', { fontFamily: FONT2, fontSize: 10.5, fill: '#222' }, Math.PI / 2)

const gRS = grids.push({ left: 560.5, top: 655, width: 514.5, height: 78 }) - 1
const xRS = frame(gRS, 'x', [37, 92.5], { major: zTicksBR, tickLen: 5, minor: steps(37, 92, 1, zTicksBR), minorLen: 3,
  labels: true, fmt: v => String(v), labelStyle: Object.assign({ margin: 8 }, brLabel), lineWidth: 1.5, oppLineWidth: 2 })
const yRS = frame(gRS, 'y', [-0.8, 0.8], { major: residTicks, tickLen: 5, minor: steps(-0.8, 0.8, 0.1, residTicks), minorLen: 3,
  labels: true, fmt: v => v.toFixed(1), labelStyle: Object.assign({ margin: 7 }, brLabel), lineWidth: 1.5, noOpposite: true })
series.push({ type: 'bar', xAxisIndex: xRS, yAxisIndex: yRS, barWidth: 8, z: 3,
  data: obsElemZ.map((z, i) => [z, residS[i]]), itemStyle: { color: 'rgba(255,194,58,0.88)' },
  markArea: { silent: true, itemStyle: { color: 'rgba(243,150,160,0.32)' }, data: [[{ yAxis: -0.2 }, { yAxis: 0.2 }]] },
  markLine: { silent: true, symbol: 'none', label: { show: false }, lineStyle: { color: '#f08c8c', width: 1.5, type: 'solid' }, data: [{ yAxis: 0 }] } })
series.push({ type: 'bar', xAxisIndex: xRS, yAxisIndex: yRS, barWidth: 8, barGap: '-100%', z: 4,
  data: obsElemZ.map((z, i) => [z, residR[i]]), itemStyle: { color: 'rgba(148,185,208,0.72)' } })
graphics.push({ type: 'text', x: 567, y: 714, z: 50, silent: true,
  style: { text: '±0.2', fontFamily: FONT2, fontSize: 8, fill: '#ef7f86', backgroundColor: 'rgba(245,175,180,0.4)', padding: [2, 3, 1, 3], align: 'left', verticalAlign: 'top' } })
text(527, 693, 'Residual', { fontFamily: FONT2, fontSize: 10.5, fill: '#222' }, Math.PI / 2)
text(818, 760, 'Atomic Number', { fontFamily: FONT2, fontSize: 10.5, fill: '#222' })

const chart = echarts.init(document.getElementById('chart'), null, { renderer: 'canvas' })
chart.setOption({
  animation: false,
  textStyle: { fontFamily: FONT },
  grid: grids, xAxis: xAxes, yAxis: yAxes,
  legend: legends, series, graphic: graphics
})
window.addEventListener('resize', () => chart.resize())
</script>
</body>
</html>
